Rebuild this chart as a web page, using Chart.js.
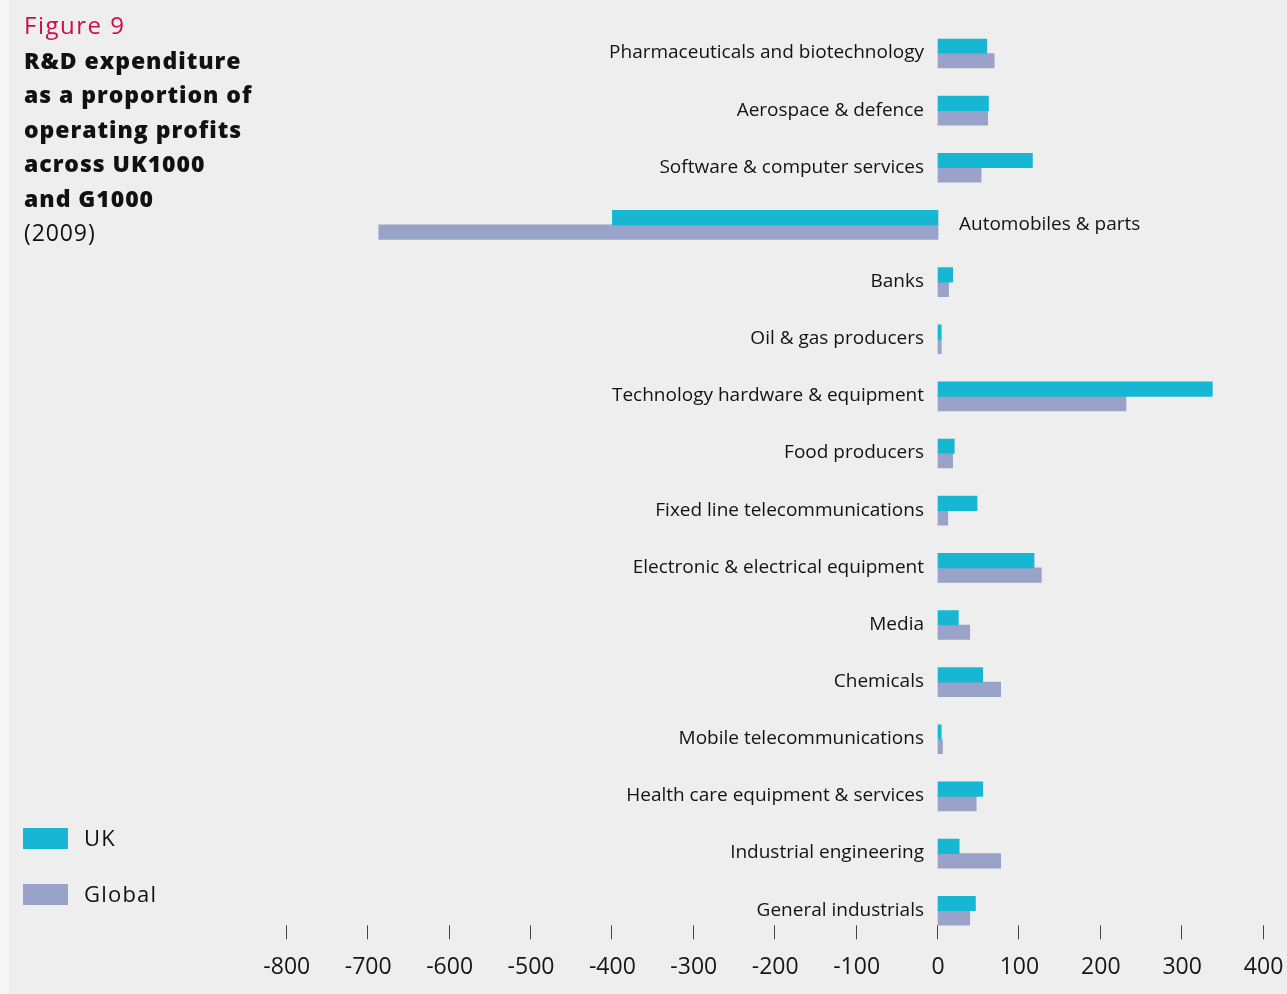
<!DOCTYPE html>
<html>
<head>
<meta charset="utf-8">
<script src="https://cdn.jsdelivr.net/npm/chart.js@4.4.1/dist/chart.umd.min.js"></script>
<style>
  body { margin: 0; background: #f7f7f7; font-family: 'Open Sans', sans-serif; color: #111; }
  .panel { position: absolute; left: 9px; top: 0; width: 1278px; height: 994px; background: #eeeeee; }
  #chart { position: absolute; left: 0; top: 0; }
  .heading { position: absolute; left: 24px; top: 8px; font-size: 23px; line-height: 34.5px; letter-spacing: 0.9px; }
  .heading .fig { color: #cf0a4f; font-weight: 400; font-size: 24px; letter-spacing: 1.5px; }
  .heading .bold { font-weight: 800; letter-spacing: 0.95px; }
  .legend-item { position: absolute; left: 23px; height: 21px; }
  .legend-item .swatch { position: absolute; left: 0; top: 0; width: 45px; height: 21px; }
  .legend-item .txt { position: absolute; left: 61px; top: -8px; font-size: 22px; line-height: 34px; letter-spacing: 1.2px; white-space: nowrap; }
</style>
</head>
<body>
<div class="panel"></div>
<canvas id="chart" width="1287" height="994"></canvas>

<div class="heading">
  <div class="fig">Figure 9</div>
  <div class="bold">R&amp;D expenditure</div>
  <div class="bold">as a proportion of</div>
  <div class="bold">operating profits</div>
  <div class="bold">across UK1000</div>
  <div class="bold">and G1000</div>
  <div>(2009)</div>
</div>

<div class="legend-item" style="top:828px"><div class="swatch" style="background:#17b7d3"></div><div class="txt">UK</div></div>
<div class="legend-item" style="top:884px"><div class="swatch" style="background:#99a2c8"></div><div class="txt">Global</div></div>

<script>
// sectors, top to bottom
const categories = [
  'Pharmaceuticals and biotechnology',
  'Aerospace & defence',
  'Software & computer services',
  'Automobiles & parts',
  'Banks',
  'Oil & gas producers',
  'Technology hardware & equipment',
  'Food producers',
  'Fixed line telecommunications',
  'Electronic & electrical equipment',
  'Media',
  'Chemicals',
  'Mobile telecommunications',
  'Health care equipment & services',
  'Industrial engineering',
  'General industrials'
];

// R&D as % of operating profits
const ukValues     = [60, 62, 116, -400, 18, 4, 337, 20, 48, 118, 25, 55, 4, 55, 26, 46];
const globalValues = [69, 61, 53, -687, 13, 4, 231, 18, 12, 127, 39, 77, 5.5, 47, 77, 39];

const xTicks = [-800, -700, -600, -500, -400, -300, -200, -100, 0, 100, 200, 300, 400];

const UK_COLOR = '#17b7d3';
const GLOBAL_COLOR = '#99a2c8';

// sector names sit beside the zero line, on the side away from the bars
const sectorLabels = {
  id: 'sectorLabels',
  afterDatasetsDraw(chart) {
    const { ctx, scales: { x, y } } = chart;
    const zero = x.getPixelForValue(0);
    ctx.save();
    ctx.font = '19px "Open Sans"';
    ctx.fillStyle = '#131313';
    ctx.textBaseline = 'middle';
    categories.forEach((name, i) => {
      const yy = y.getPixelForValue(i) - 0.5;
      const neg = Math.min(ukValues[i], globalValues[i]) < 0;
      if (neg) {
        ctx.textAlign = 'left';
        ctx.fillText(name, zero + 21, yy);
      } else {
        ctx.textAlign = 'right';
        ctx.fillText(name, zero - 14, yy);
      }
    });
    ctx.restore();
  }
};

// short tick marks just above the axis labels
const tickMarks = {
  id: 'tickMarks',
  afterDraw(chart) {
    const { ctx, chartArea, scales: { x } } = chart;
    ctx.save();
    ctx.strokeStyle = '#444';
    ctx.lineWidth = 1;
    x.ticks.forEach(t => {
      const px = Math.round(x.getPixelForValue(t.value)) - 0.5;
      ctx.beginPath();
      ctx.moveTo(px, chartArea.bottom - 14);
      ctx.lineTo(px, chartArea.bottom);
      ctx.stroke();
    });
    ctx.restore();
  }
};

new Chart(document.getElementById('chart'), {
  type: 'bar',
  data: {
    labels: categories,
    datasets: [
      { label: 'UK', data: ukValues, backgroundColor: UK_COLOR, barThickness: 14.5 },
      { label: 'Global', data: globalValues, backgroundColor: GLOBAL_COLOR, barThickness: 14.5 }
    ]
  },
  options: {
    indexAxis: 'y',
    responsive: false,
    animation: false,
    layout: { padding: { left: 286.8, right: 23.4, top: 24.9, bottom: 0 } },
    plugins: { legend: { display: false }, tooltip: { enabled: false } },
    scales: {
      x: {
        min: xTicks[0],
        max: xTicks[xTicks.length - 1],
        afterBuildTicks: (s) => { s.ticks = xTicks.map(v => ({ value: v })); },
        afterFit: (s) => {
          s.height = 54.7;
          s.paddingLeft = 0;
          s.paddingRight = 0;
        },
        grid: { display: false, drawTicks: false },
        border: { display: false },
        ticks: {
          padding: 14,
          color: '#161616',
          font: { family: 'Open Sans', size: 23 },
          maxRotation: 0,
          autoSkip: false
        }
      },
      y: {
        display: false,
        offset: true,
        grid: { display: false }
      }
    }
  },
  plugins: [sectorLabels, tickMarks]
});
</script>
</body>
</html>
